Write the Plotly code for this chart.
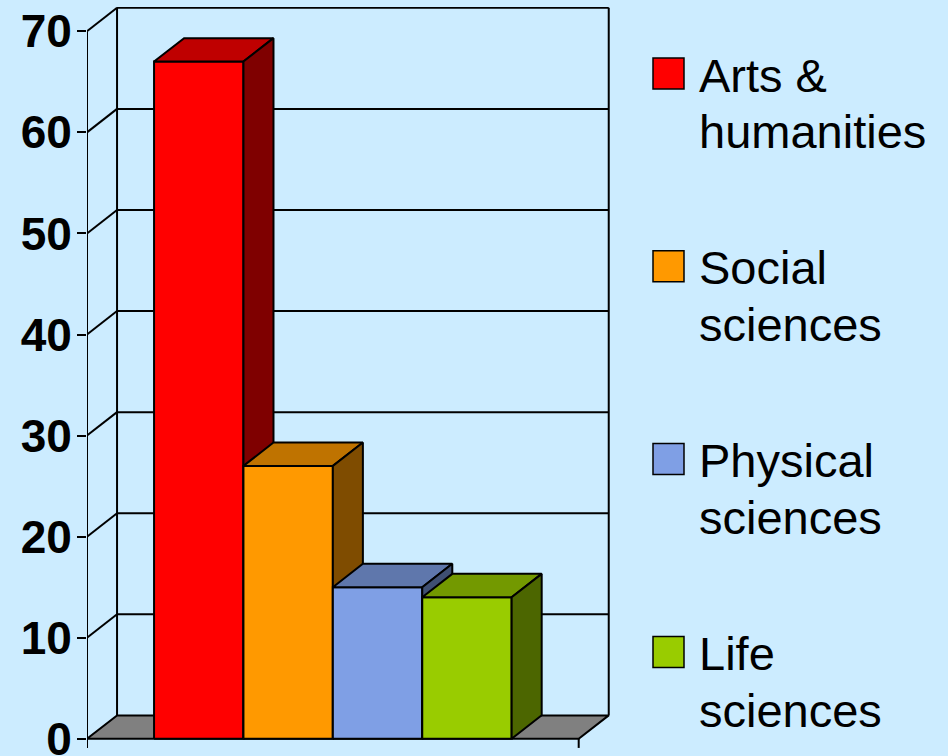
import plotly.graph_objects as go

# data
categories = ["Arts &<br>humanities", "Social<br>sciences", "Physical<br>sciences", "Life<br>sciences"]
values = [67, 27, 15, 14]
front_colors = ["#FF0000", "#FF9900", "#7F9FE5", "#99CC00"]
top_colors = ["#BF0000", "#BF7300", "#5F77AC", "#739900"]
side_colors = ["#7F0000", "#7F4C00", "#3F4F72", "#4C6600"]
y_ticks = [0, 10, 20, 30, 40, 50, 60, 70]

BG = "#CCECFF"
W, H = 948, 756
ML, MR, MT, MB = 87, 0, 7, 1
PX_PER_X = 89.4          # bar width in px
DX, DY = 0.336, 2.32     # 3d depth offset in data units
X0, X1 = -1.25, len(values) + 0.25
Y_MAX = y_ticks[-1]
Y_RANGE = [-1.6, 72.4]
FONT = "Arial, Liberation Sans, sans-serif"

fig = go.Figure()


def add_poly(xs, ys, fill):
    fig.add_trace(go.Scatter(x=xs, y=ys, mode="lines", fill="toself", fillcolor=fill,
                             line=dict(color="black", width=2), hoverinfo="skip", showlegend=False))


def add_lines(xs, ys):
    fig.add_trace(go.Scatter(x=xs, y=ys, mode="lines", line=dict(color="black", width=2),
                             hoverinfo="skip", showlegend=False))


# floor
add_poly([X0, X1, X1 + DX, X0 + DX, X0], [0, 0, DY, DY, 0], "#808080")

# walls: back gridlines, side diagonals, edges
xs, ys = [], []
for v in y_ticks[1:]:
    xs += [X0 + DX, X1 + DX, None]
    ys += [v + DY, v + DY, None]
for v in y_ticks[1:]:
    xs += [X0, X0 + DX, None]
    ys += [v, v + DY, None]
for x in (X0 + DX, X1 + DX):
    xs += [x, x, None]
    ys += [DY, Y_MAX + DY, None]
xs += [X0, X0, None, X0, X0, None, X1, X1]
ys += [0, Y_MAX, None, 0, -0.9, None, 0, -0.9]
add_lines(xs, ys)

# bars, left to right so each one covers the side of the previous
for i, v in enumerate(values):
    l, r = i - 0.5, i + 0.5
    add_poly([l, r, r, l, l], [0, 0, v, v, 0], front_colors[i])
    add_poly([l, r, r + DX, l + DX, l], [v, v, v + DY, v + DY, v], top_colors[i])
    add_poly([r, r + DX, r + DX, r, r], [0, DY, v + DY, v, 0], side_colors[i])


def px_x(px):
    return (px - ML) / (W - ML - MR)


def px_y(py):
    return 1 - (py - MT) / (H - MT - MB)


# legend drawn by hand so the swatches can be large
for i, name in enumerate(categories):
    c = 73.5 + i * 192.8
    fig.add_shape(type="rect", xref="paper", yref="paper",
                  x0=px_x(653), x1=px_x(684), y0=px_y(c + 15.5), y1=px_y(c - 15.5),
                  fillcolor=front_colors[i], line=dict(color="black", width=1.5))
    for k, line in enumerate(name.split("<br>")):
        fig.add_annotation(xref="paper", yref="paper", x=px_x(697), y=px_y(c - 27 + k * 56.7),
                           xanchor="left", yanchor="top", align="left", showarrow=False,
                           text=line, font=dict(family=FONT, size=47, color="black"))

fig.update_layout(
    width=W, height=H,
    margin=dict(l=ML, r=MR, t=MT, b=MB, pad=0),
    paper_bgcolor=BG, plot_bgcolor=BG,
    showlegend=False,
    xaxis=dict(range=[X0, X0 + (W - ML - MR) / PX_PER_X], visible=False, fixedrange=True),
    yaxis=dict(range=Y_RANGE, tickvals=y_ticks, showgrid=False, zeroline=False, showline=False,
               ticks="outside", ticklen=9, tickwidth=2, tickcolor="black",
               ticklabelstandoff=-4, ticklabeloverflow="allow", automargin=False,
               fixedrange=True,
               tickfont=dict(family=FONT, size=46, color="black", weight="bold")),
)

# the page's default body margin would shift the chart by 8px
fig.write_html("out.html", config={"displayModeBar": False},
               post_script="document.body.style.margin='0';"
                           "document.body.style.background='%s';" % BG)
